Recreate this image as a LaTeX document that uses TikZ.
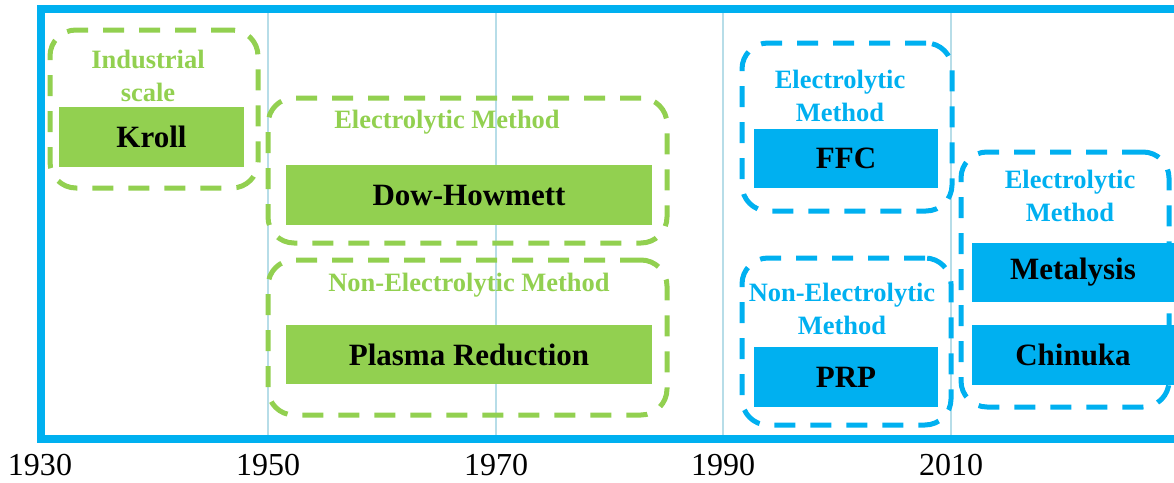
\documentclass[tikz,border=0pt]{standalone}
\usepackage{fontspec}
\setmainfont{Liberation Serif}
\definecolor{offgreen}{HTML}{92D050}
\definecolor{offblue}{HTML}{00B0F0}
\definecolor{gridblue}{HTML}{B7DDE8}
\begin{document}
\begin{tikzpicture}[x=1pt,y=-1pt,
  dashbox/.style={draw, line width=5pt, dash pattern=on 21pt off 15pt, rounded corners=26pt, inner sep=0pt, fill=none},
  gbox/.style={dashbox, draw=offgreen},
  bbox/.style={dashbox, draw=offblue},
  fillbox/.style={inner sep=0pt, text=black, font=\fontsize{31}{34}\selectfont\bfseries},
  gfill/.style={fillbox, fill=offgreen},
  bfill/.style={fillbox, fill=offblue},
  title/.style={align=center, inner sep=0pt, font=\fontsize{26.5}{33}\selectfont\bfseries},
  gtitle/.style={title, text=offgreen},
  btitle/.style={title, text=offblue},
  year/.style={inner sep=0pt, font=\fontsize{32}{34}\selectfont},
  grid/.style={draw=gridblue, line width=1.6pt}
]
\useasboundingbox (0,0) rectangle (1174,482);
% grid lines
\foreach \x in {268,496,723,951}{
  \draw[grid] (\x,12) -- (\x,436);
}
% frame
\draw[offblue, line width=8pt] (1174,9) -- (41,9) -- (41,439) -- (1174,439);
% year labels
\node[year] (y1930) at (40,465) {1930};
\node[year] (y1950) at (268,465) {1950};
\node[year] (y1970) at (496,465) {1970};
\node[year] (y1990) at (723,465) {1990};
\node[year] (y2010) at (951,465) {2010};
% green groups
\node[gbox, minimum width=208pt, minimum height=158pt] (g1) at (154,109) {};
\node[gtitle] (t1) at (148,75.5) {Industrial\\scale};
\node[gfill, minimum width=185pt, minimum height=60pt] (kroll) at (151.5,137) {Kroll};

\node[gbox, minimum width=399pt, minimum height=145pt] (g2) at (467.5,170.5) {};
\node[gtitle] (t2) at (447,122) {Electrolytic Method};
\node[gfill, minimum width=366pt, minimum height=60pt] (dow) at (469,195) {Dow-Howmett};

\node[gbox, minimum width=399pt, minimum height=155pt] (g3) at (467.5,337.5) {};
\node[gtitle] (t3) at (469,285) {Non-Electrolytic Method};
\node[gfill, minimum width=366pt, minimum height=59pt] (plasma) at (469,354.5) {Plasma Reduction};
% blue groups
\node[bbox, minimum width=210pt, minimum height=168pt] (g4) at (847,127) {};
\node[btitle] (t4) at (840,95.5) {Electrolytic\\Method};
\node[bfill, minimum width=184pt, minimum height=59pt] (ffc) at (846,158.5) {FFC};

\node[bbox, minimum width=209pt, minimum height=167pt] (g5) at (846.5,341.5) {};
\node[btitle] (t5) at (842,309) {Non-Electrolytic\\Method};
\node[bfill, minimum width=184pt, minimum height=60pt] (prp) at (846,377) {PRP};

\node[bbox, minimum width=208pt, minimum height=255pt] (g6) at (1065,279.5) {};
\node[btitle] (t6) at (1070,196) {Electrolytic\\Method};
\node[bfill, minimum width=202pt, minimum height=59pt] (metal) at (1073,272.5) {Metalysis};
\node[bfill, minimum width=202pt, minimum height=60pt] (chin) at (1073,355) {Chinuka};
\end{tikzpicture}
\end{document}
